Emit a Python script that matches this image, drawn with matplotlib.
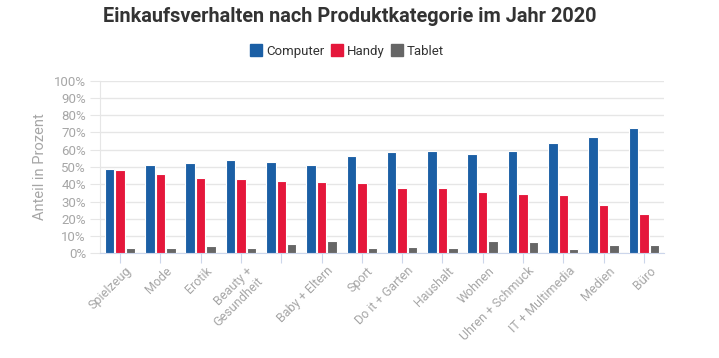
import matplotlib
matplotlib.use('Agg')
import matplotlib.pyplot as plt
import matplotlib.transforms as mtransforms
from matplotlib.lines import Line2D
import numpy as np

plt.rcParams['font.family'] = ['Roboto', 'DejaVu Sans']

# 5th category has no visible label in the source chart
categories = ['Spielzeug', 'Mode', 'Erotik', 'Beauty +\nGesundheit', '',
              'Baby + Eltern', 'Sport', 'Do it + Garten', 'Haushalt', 'Wohnen',
              'Uhren + Schmuck', 'IT + Multimedia', 'Medien', 'Büro']
computer = [49.0, 51.0, 52.3, 53.9, 52.7, 51.4, 56.4, 58.5, 59.3, 57.5, 59.1, 63.7, 67.2, 72.6]
handy = [48.3, 46.1, 43.4, 43.2, 42.1, 41.3, 40.5, 38.0, 37.6, 35.5, 34.4, 33.8, 27.8, 22.8]
tablet = [2.9, 3.1, 4.4, 3.1, 5.3, 7.1, 3.1, 3.5, 3.1, 6.9, 6.6, 2.5, 5.0, 4.8]
series = ['Computer', 'Handy', 'Tablet']
colors = ['#1b5fa5', '#e5173b', '#666666']

fig = plt.figure(figsize=(7.19, 3.58), dpi=100)
ax = fig.add_axes([0.139, 0.2925, 0.7845, 0.482])

x = np.arange(len(categories))
w = 0.235
off = 0.26
for i, vals in enumerate([computer, handy, tablet]):
    ax.bar(x + (i - 1) * off, vals, width=w, color=colors[i],
           edgecolor='white', linewidth=0.8, zorder=3)

ax.set_xlim(-0.5, len(categories) - 0.5)
ax.set_ylim(0, 100)
ax.set_yticks(range(0, 101, 10))
ax.set_yticklabels([f'{v}%' for v in range(0, 101, 10)])
ax.grid(axis='y', color='#e6e6e6', linewidth=1, zorder=0)
for s in ['top', 'right']:
    ax.spines[s].set_visible(False)
ax.spines['left'].set_color('#e6e6e6')
ax.spines['bottom'].set_color('#ccd6eb')
ax.tick_params(axis='y', colors='#e6e6e6', labelcolor='#a6a6a6', labelsize=9.5, length=7, pad=3)
ax.tick_params(axis='x', colors='#ccd6eb', labelcolor='#a6a6a6', labelsize=9, length=7, pad=1)
ax.set_xticks(x)
ax.set_xticklabels(categories, rotation=45, ha='right', rotation_mode='anchor',
                   multialignment='right', linespacing=1.1)
shift = mtransforms.ScaledTranslation(5 / 100, 0, fig.dpi_scale_trans)
for lbl in ax.get_xticklabels():
    lbl.set_transform(lbl.get_transform() + shift)

ax.set_ylabel('Anteil in Prozent', color='#a6a6a6', fontsize=10.5, labelpad=5)

fig.text(0.487, 0.953, 'Einkaufsverhalten nach Produktkategorie im Jahr 2020',
         ha='center', va='center', fontsize=14.3, fontweight='bold', color='#333333')

handles = [Line2D([], [], marker='s', linestyle='', markersize=8.5, color=c) for c in colors]
fig.legend(handles, series, loc='center', bbox_to_anchor=(0.483, 0.857), ncol=3,
           frameon=False, fontsize=9.5, handletextpad=0.3, columnspacing=0.5,
           handlelength=0.9, labelcolor='#333333')

fig.savefig('out.png', dpi=100)
